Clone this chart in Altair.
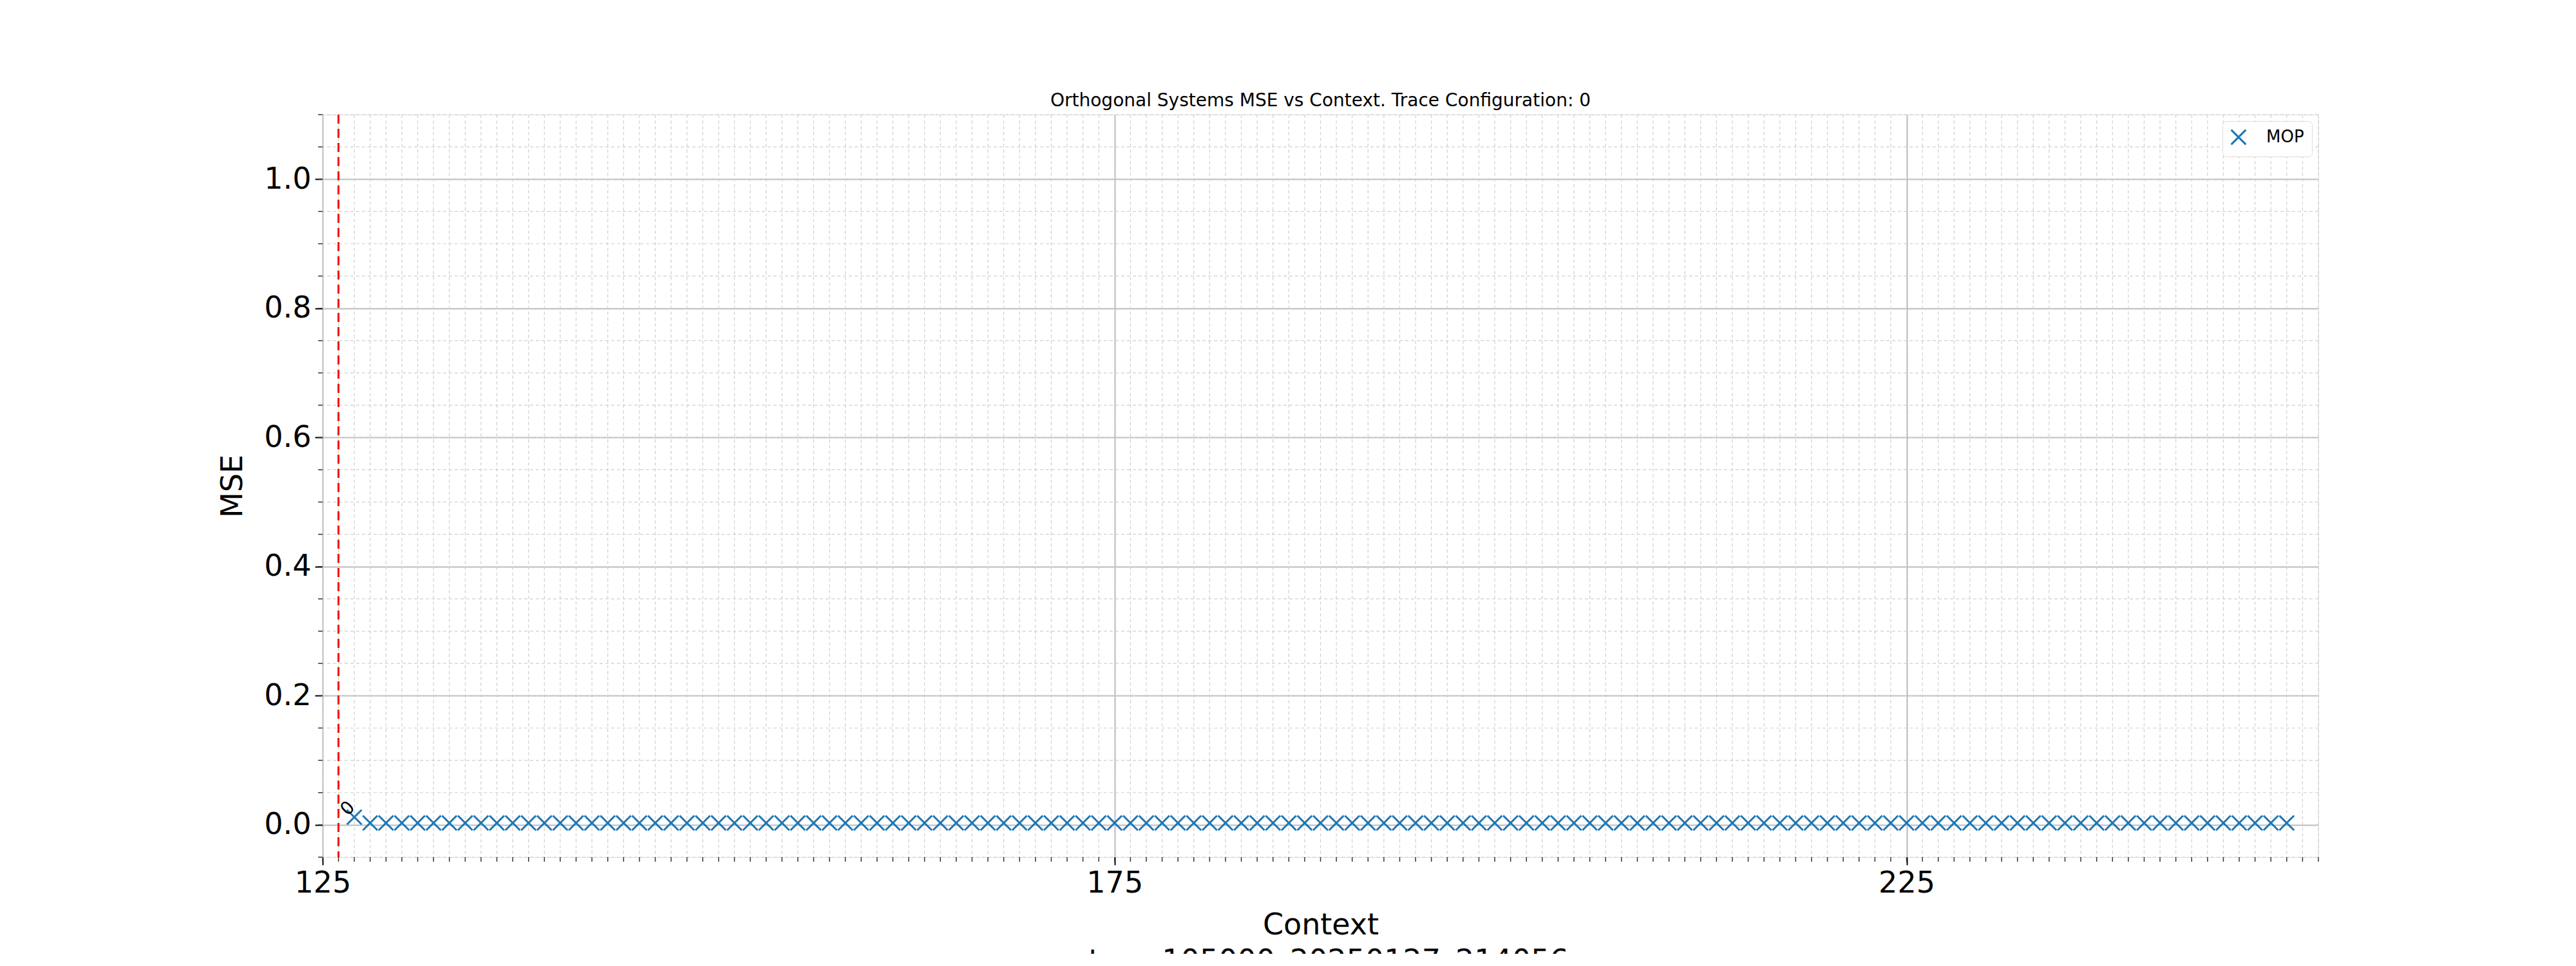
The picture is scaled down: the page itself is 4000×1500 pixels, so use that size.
import altair as alt
import pandas as pd

# Context lengths and MSE
contexts = list(range(127, 250))
mse = [0.012] + [0.003] * (len(contexts) - 1)
boundary = [126]
label_x = [126.6]
label_y = [0.025]
label_text = ["0"]

x_major = [125, 175, 225]
x_minor = list(range(125, 252))
y_major = [0.0, 0.2, 0.4, 0.6, 0.8, 1.0]
y_minor = [round(-0.05 + 0.05 * i, 2) for i in range(24)]

W, H = 3099, 1153
df = pd.DataFrame({"Context": contexts, "MSE": mse, "series": "MOP"})
xs = alt.Scale(domain=[125, 251], nice=False, zero=False)
ys = alt.Scale(domain=[-0.05, 1.1], nice=False, zero=False)

x_title = ["Context", "step=105000_20250127_214056"]

xm = pd.DataFrame({"x": x_minor})
ym = pd.DataFrame({"y": y_minor})
grid_style = dict(color="#d0d0d0", strokeDash=[5, 4], strokeWidth=1.2)
xgrid = alt.Chart(xm).mark_rule(**grid_style).encode(x=alt.X("x:Q", scale=xs))
ygrid = alt.Chart(ym).mark_rule(**grid_style).encode(y=alt.Y("y:Q", scale=ys))
xtick = alt.Chart(xm).mark_rule(color="#333", strokeWidth=1.5).encode(
    x=alt.X("x:Q", scale=xs), y=alt.value(H), y2=alt.value(H + 7))
ytick = alt.Chart(ym).mark_rule(color="#333", strokeWidth=1.5).encode(
    y=alt.Y("y:Q", scale=ys), x=alt.value(0), x2=alt.value(-7))

major = alt.Chart(df).mark_point(opacity=0).encode(
    x=alt.X("Context:Q", scale=xs, title=x_title, axis=alt.Axis(
        values=x_major, format="d", tickSize=12, tickWidth=2, grid=True,
        gridColor="#bbbbbb", gridWidth=2, labelFontSize=46, titleFontSize=46,
        titleFontWeight="normal", labelPadding=6, titlePadding=20, domain=False,
        labelFlush=False, tickColor="black", titleLineHeight=56)),
    y=alt.Y("MSE:Q", scale=ys, title="MSE", axis=alt.Axis(
        values=y_major, format=".1f", tickSize=12, tickWidth=2, grid=True,
        gridColor="#bbbbbb", gridWidth=2, labelFontSize=46, titleFontSize=46,
        titleFontWeight="normal", labelPadding=6, titlePadding=24, domain=False,
        tickColor="black")),
)

vline = alt.Chart(pd.DataFrame({"x": boundary})).mark_rule(
    color="red", strokeDash=[14, 8], strokeWidth=3).encode(x=alt.X("x:Q", scale=xs))

cross = "M-1,-1L1,1M1,-1L-1,1"
points = alt.Chart(df).mark_point(shape=cross, filled=False, size=520, strokeWidth=3, opacity=1).encode(
    x=alt.X("Context:Q", scale=xs),
    y=alt.Y("MSE:Q", scale=ys),
    color=alt.Color("series:N", scale=alt.Scale(range=["#1f77b4"]), legend=alt.Legend(
        title=None, orient="top-right", labelFontSize=26, symbolSize=520, symbolStrokeWidth=3,
        strokeColor="#dddddd", cornerRadius=6, padding=12, offset=10, symbolType=cross,
        labelOffset=30, fillColor="white")),
)

note = alt.Chart(pd.DataFrame({"x": label_x, "y": label_y, "t": label_text})).mark_text(
    angle=315, fontSize=28, color="black").encode(
    x=alt.X("x:Q", scale=xs), y=alt.Y("y:Q", scale=ys), text="t:N")

chart = alt.layer(xgrid, ygrid, major, xtick, ytick, vline, points, note).properties(
    width=W, height=H,
    title=alt.Title("Orthogonal Systems MSE vs Context. Trace Configuration: 0",
                    fontSize=28, fontWeight="normal", offset=6, font="DejaVu Sans"),
    autosize=alt.AutoSizeParams(type="none"),
    padding={"left": 493, "top": 170, "right": 392, "bottom": 150},
).configure_view(stroke="black", strokeWidth=2).configure(font="DejaVu Sans")

chart.save("out.html", embed_options={"renderer": "svg", "actions": False})
